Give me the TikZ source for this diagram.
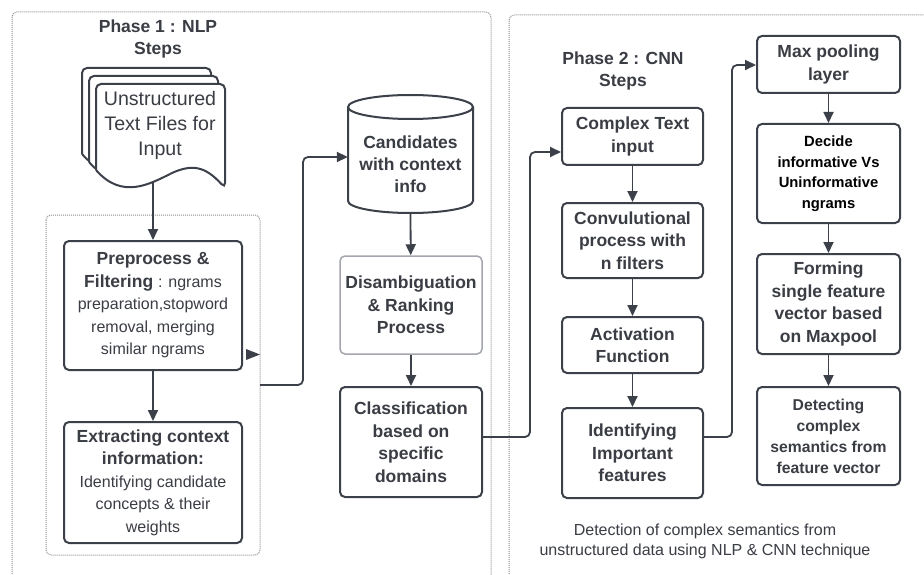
\documentclass[tikz,border=0pt]{standalone}
\usepackage{fontspec}
\setmainfont{Liberation Sans}
\usetikzlibrary{arrows.meta}
\definecolor{ink}{HTML}{3B4049}
\definecolor{txt}{HTML}{3A3D44}
\definecolor{framec}{HTML}{8E8E8E}
\definecolor{lightb}{HTML}{A3A7AD}
\newcommand\rg{\mdseries\fontsize{16}{21}\selectfont}
\newcommand\docshape[2]{%
  \draw[docst] ({96+#1},{170+#2}) -- ({96+#1},{84+#2}) -- ({225+#1},{84+#2}) -- ({225+#1},{188+#2})
    [sharp corners] .. controls ({205+#1},{166+#2}) and ({192+#1},{164+#2}) .. ({172+#1},{173+#2})
    .. controls ({150+#1},{184+#2}) and ({122+#1},{200+#2}) .. ({96+#1},{170+#2});}
\begin{document}
\begin{tikzpicture}[x=1pt,y=-1pt,
  box/.style={draw=ink, line width=2pt, rounded corners=5pt, fill=white, align=center,
    text=txt, font=\bfseries\fontsize{17.5}{22.5}\selectfont, inner sep=0pt},
  arr/.style={draw=ink, line width=1.8pt, -{Triangle[length=11pt,width=10pt]}, rounded corners=5pt},
  framest/.style={draw=framec, line width=1pt, dash pattern=on 1pt off 1pt, rounded corners=5pt},
  docst/.style={draw=ink, line width=2pt, fill=white, rounded corners=5pt},
  title/.style={align=center, text=txt, font=\bfseries\fontsize{17.5}{22}\selectfont, inner sep=0pt}]
\useasboundingbox (0,0) rectangle (924,575);
\clip (0,0) rectangle (924,575);
\fill[white] (0,0) rectangle (924,575);

% frames
\draw[framest] (12,600) -- (12,12) -- (491,12) -- (491,600);
\draw[framest] (509,600) -- (509,15) -- (950,15);
\draw[framest] (46,215) rectangle (260,555);
\coordinate (c1) at (260,385);

% titles
\node[title] (t1) at (158,39) {Phase 1 : NLP\\Steps};
\node[title] (t2) at (623,71) {Phase 2 : CNN\\Steps};

% document stack
\docshape{-14}{-16}
\docshape{-7}{-8}
\docshape{0}{0}
\node[align=center, text=txt, font=\fontsize{19.6}{25}\selectfont, inner sep=0pt] (doc) at (160,125)
  {Unstructured\\Text Files for\\Input};
\coordinate (docb) at (153,182);

% phase 1 boxes
\node[box, minimum width=178pt, minimum height=129pt] (pre) at (153,305.5)
  {Preprocess \&\\Filtering {\rg : ngrams}\\{\rg preparation,stopword}\\{\rg removal, merging}\\{\rg similar ngrams}};
\node[box, minimum width=178pt, minimum height=121pt] (ext) at (153,482.5)
  {Extracting context\\information:\\{\rg Identifying candidate}\\{\rg concepts \& their}\\{\rg weights}};

% cylinder
\node[minimum width=125pt, minimum height=118pt, inner sep=0pt] (cyl) at (410.5,154) {};
\draw[draw=ink, line width=2pt, fill=white] (348,107) -- (348,201) arc[start angle=180, end angle=360, x radius=62.5pt, y radius=12pt] -- (473,107);
\draw[draw=ink, line width=2pt, fill=white] (410.5,107) ellipse [x radius=62.5pt, y radius=12pt];
\node[title] (cyltxt) at (410.5,164.5) {Candidates\\with context\\info};

\node[box, draw=lightb, line width=1.5pt, minimum width=142pt, minimum height=98pt] (dis) at (411,305)
  {Disambiguation\\\& Ranking\\Process};
\node[box, minimum width=142pt, minimum height=110pt] (cls) at (411,442)
  {Classification\\based on\\specific\\domains};

% phase 2 boxes
\node[box, minimum width=141pt, minimum height=57pt] (cti) at (632.5,136.5) {Complex Text\\input};
\node[box, minimum width=141pt, minimum height=75pt] (conv) at (632.5,240.5) {Convulutional\\process with\\n filters};
\node[box, minimum width=141pt, minimum height=56pt] (act) at (632.5,345) {Activation\\Function};
\node[box, minimum width=141pt, minimum height=90pt] (idf) at (632.5,453) {Identifying\\Important\\features};

\node[box, minimum width=143pt, minimum height=57pt] (maxp) at (828.5,64.5) {Max pooling\\layer};
\node[box, minimum width=143pt, minimum height=99pt, text=black, font=\bfseries\fontsize{14.8}{20.5}\selectfont] (dec) at (828.5,173.5)
  {Decide\\informative Vs\\Uninformative\\ngrams};
\node[box, minimum width=143pt, minimum height=100pt] (form) at (828.5,304)
  {Forming\\single feature\\vector based\\on Maxpool};
\node[box, minimum width=143pt, minimum height=98pt, font=\bfseries\fontsize{15.7}{21}\selectfont] (det) at (828.5,436)
  {Detecting\\complex\\semantics from\\feature vector};

% caption
\node[align=center, text=txt, font=\fontsize{16}{20}\selectfont, inner sep=0pt] (cap) at (705,541)
  {Detection of complex semantics from\\unstructured data using NLP \& CNN technique};

% connectors
\draw[arr] (docb) -- (pre);
\draw[arr] (pre) -- (ext);
\draw[arr] (c1) -- (303,385) -- (303,157) -- (cyl.west |- 0,157);
\draw[arr] (cyl.south) -- (dis);
\draw[arr] (dis) -- (cls);
\draw[arr] (cls.east |- 0,437) -- (530,437) -- (530,152) -- (cti.west |- 0,152);
\draw[arr] (cti) -- (conv);
\draw[arr] (conv) -- (act);
\draw[arr] (act) -- (idf);
\draw[arr] (idf.east |- 0,437) -- (732,437) -- (732,65) -- (maxp.west |- 0,65);
\draw[arr] (maxp) -- (dec);
\draw[arr] (dec) -- (form);
\draw[arr] (form) -- (det);
\fill[ink] (246,349) -- (260,354.5) -- (246,360) -- cycle;
\end{tikzpicture}
\end{document}
